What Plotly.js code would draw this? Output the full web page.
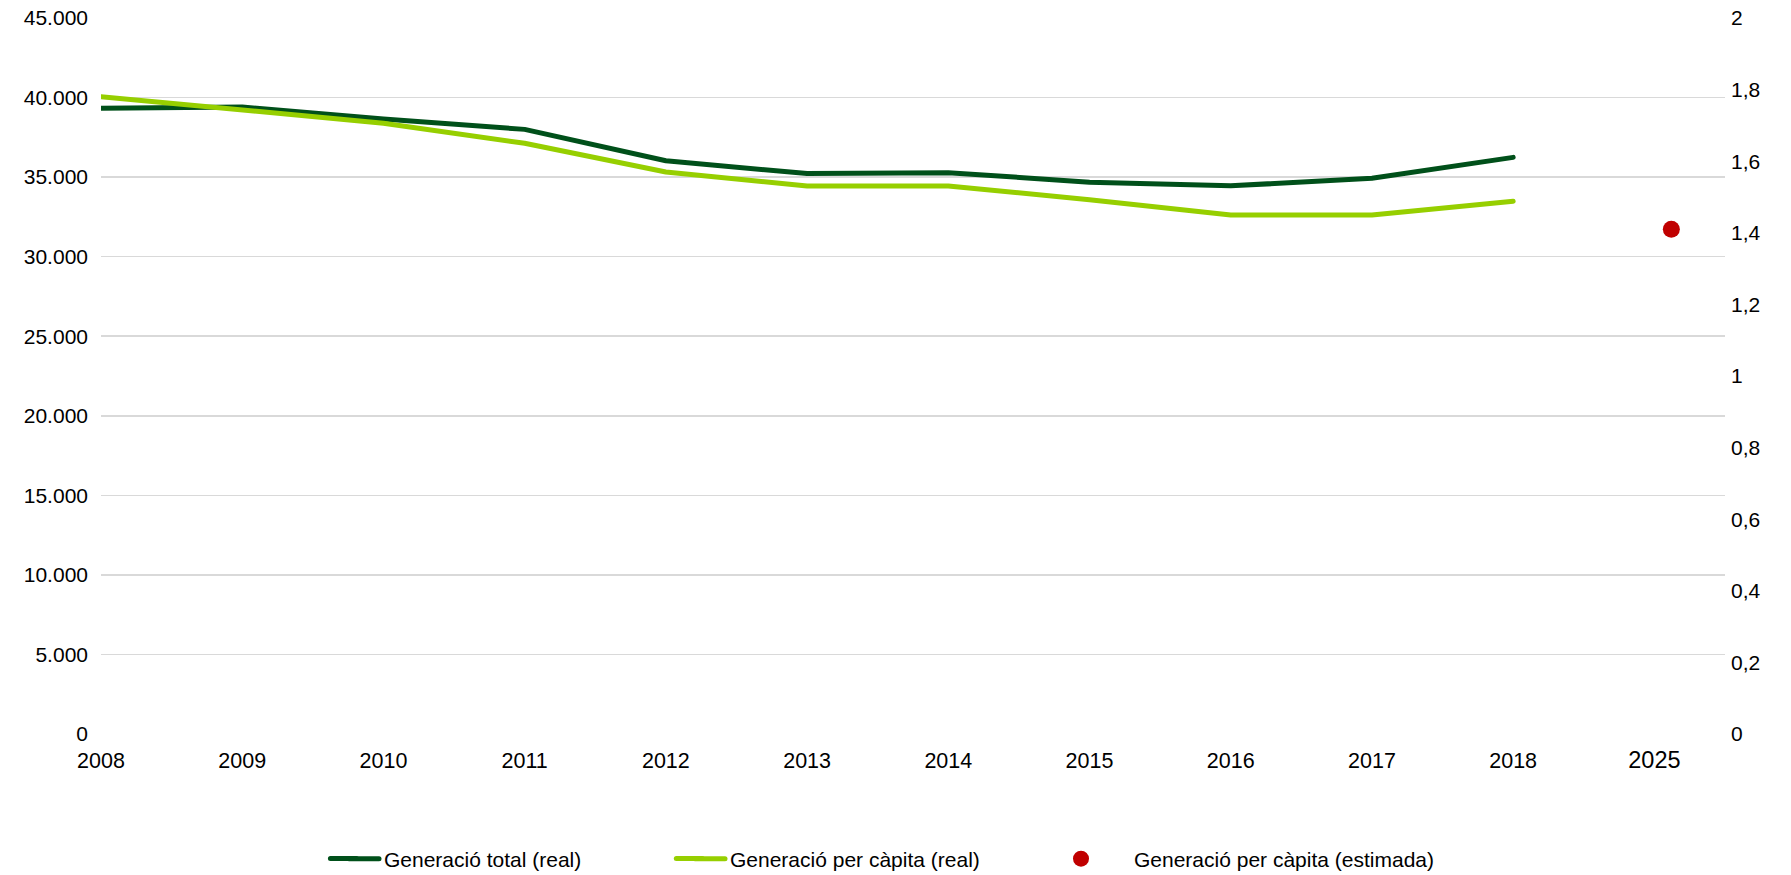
<!DOCTYPE html>
<html>
<head>
<meta charset="utf-8">
<script src="https://cdn.plot.ly/plotly-3.0.1.min.js"></script>
<style>
html,body{margin:0;padding:0;background:#fff;}
#chart{width:1791px;height:875px;}
path.js-line{stroke-linecap:round;stroke-linejoin:round;}
.shapelayer path{stroke-linecap:round;}
</style>
</head>
<body>
<div id="chart"></div>
<script>
// Categories (years)
var years = ['2008','2009','2010','2011','2012','2013','2014','2015','2016','2017','2018','2025'];
var realYears = ['2008','2009','2010','2011','2012','2013','2014','2015','2016','2017','2018'];
// Generació total (real) - left axis
var totalReal = [39330, 39400, 38650, 38000, 36030, 35220, 35280, 34680, 34450, 34930, 36240];
// Generació per càpita (real) - right axis
var perCapitaReal = [1.780, 1.742, 1.706, 1.650, 1.570, 1.531, 1.531, 1.492, 1.450, 1.450, 1.488];
// Generació per càpita (estimada) - right axis
var estYears = ['2025'];
var perCapitaEst = [1.41];
// Tick values
var leftTicks = [0, 5000, 10000, 15000, 20000, 25000, 30000, 35000, 40000, 45000];
var rightTicks = [0, 0.2, 0.4, 0.6, 0.8, 1, 1.2, 1.4, 1.6, 1.8, 2];

var names = ['Generació total (real)', 'Generació per càpita (real)', 'Generació per càpita (estimada)'];
var colors = ['#00501a', '#96cf00', '#c00000'];

var font = 'Liberation Sans, Arial, Helvetica, sans-serif';
var W = 1791, H = 875;
var mL = 100.5, mR = 66, mT = 18, mB = 140.5;
var pw = W - mL - mR, ph = H - mT - mB;
function px2x(p){ return (p - mL) / pw; }
function px2y(p){ return (H - mB - p) / ph; }

var traces = [
  {x: realYears, y: totalReal, type: 'scatter', mode: 'lines', name: names[0],
   line: {color: colors[0], width: 5}, xaxis: 'x', yaxis: 'y', legend: 'legend'},
  {x: realYears, y: perCapitaReal, type: 'scatter', mode: 'lines', name: names[1],
   line: {color: colors[1], width: 5}, xaxis: 'x', yaxis: 'y2', legend: 'legend2'},
  {x: estYears, y: perCapitaEst, type: 'scatter', mode: 'markers', name: names[2],
   marker: {color: colors[2], size: 17}, xaxis: 'x2', yaxis: 'y2', legend: 'legend3'}
];

var ticktext = years.map(function(y){ return y === '2025' ? '<span style="font-size:23.5px">' + y + '</span>' : y; });

var legY = 859;
var legendBase = {orientation: 'h', xref: 'container', yref: 'container', yanchor: 'middle',
  y: 1 - legY / H, font: {family: font, size: 21, color: '#000'}, bgcolor: 'rgba(0,0,0,0)'};

// legend line extensions (the library's legend swatch is shorter than the reference's)
var shapes = [
  {type: 'line', xref: 'paper', yref: 'paper', x0: px2x(330), x1: px2x(356), y0: px2y(legY), y1: px2y(legY),
   line: {color: colors[0], width: 5}},
  {type: 'line', xref: 'paper', yref: 'paper', x0: px2x(676), x1: px2x(702), y0: px2y(legY), y1: px2y(legY),
   line: {color: colors[1], width: 5}}
];

var layout = {
  width: W, height: H,
  margin: {l: mL, r: mR, t: mT, b: mB, pad: 0},
  paper_bgcolor: '#fff', plot_bgcolor: '#fff',
  separators: ',.',
  font: {family: font, size: 21, color: '#000'},
  showlegend: true,
  shapes: shapes,
  xaxis: {
    type: 'category', categoryorder: 'array', categoryarray: years,
    range: [0, 11.5], tickvals: years, ticktext: ticktext,
    showgrid: false, zeroline: false, showline: false, ticks: '',
    ticklabelstandoff: 11, tickfont: {family: font, size: 21.5, color: '#000'}, fixedrange: true
  },
  xaxis2: {
    type: 'category', categoryorder: 'array', categoryarray: years,
    overlaying: 'x', range: [-0.12, 11.38], visible: false, fixedrange: true
  },
  yaxis: {
    range: [0, 45000], tickvals: leftTicks, tickformat: ',d',
    showgrid: true, gridcolor: '#d9d9d9', gridwidth: 1.5, zeroline: false, showline: false,
    ticks: '', ticklabelstandoff: 12, tickfont: {family: font, size: 21, color: '#000'}
  },
  yaxis2: {
    overlaying: 'y', side: 'right', range: [0, 2], tickvals: rightTicks,
    showgrid: false, zeroline: false, showline: false, ticks: '', ticklabelstandoff: 5,
    tickfont: {family: font, size: 21, color: '#000'}
  },
  legend: Object.assign({}, legendBase, {x: 344 / W}),
  legend2: Object.assign({}, legendBase, {x: 690 / W}),
  legend3: Object.assign({}, legendBase, {x: 1028 / W, itemwidth: 96})
};

Plotly.newPlot('chart', traces, layout, {displayModeBar: false, staticPlot: true});
</script>
</body>
</html>
